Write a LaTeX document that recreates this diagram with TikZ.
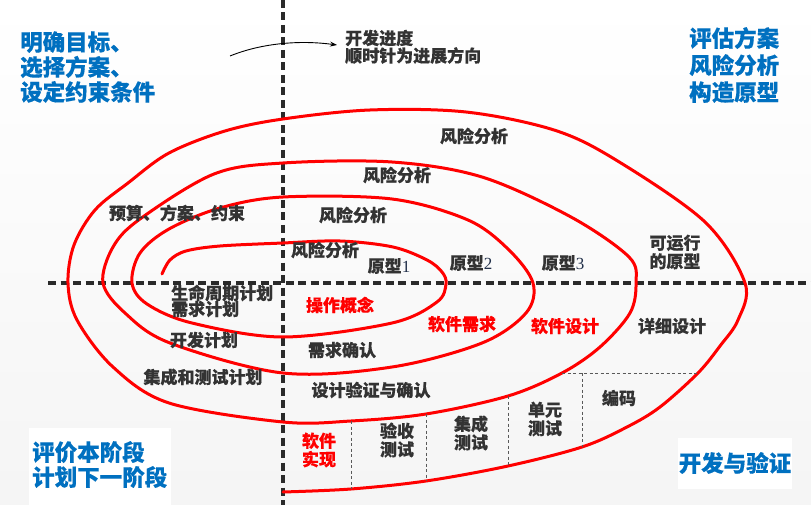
\documentclass[tikz,border=0pt]{standalone}
\usepackage{fontspec}
\setmainfont{Noto Sans CJK SC}[BoldFeatures={FakeBold=0.35}]
\newfontfamily\digitfont{Liberation Serif}
\usetikzlibrary{arrows.meta}
\definecolor{lbl}{HTML}{333333}
\definecolor{axc}{HTML}{2A2A2A}
\definecolor{blu}{HTML}{0070C0}
\definecolor{sred}{HTML}{FF0000}
\definecolor{dig}{HTML}{22304A}
\tikzset{
 lab/.style={font=\fontsize{17}{18.5}\selectfont\bfseries, text=lbl, inner sep=0pt, align=center},
 rlab/.style={lab, text=sred},
 corner/.style={font=\fontsize{22.5}{25}\selectfont\bfseries, text=blu, inner sep=0pt, align=left, anchor=west},
 axisline/.style={draw=axc, line width=3.4pt, dash pattern=on 8pt off 4.5pt},
 spiral/.style={line width=3pt, color=sred, line cap=round, line join=round},
 gridline/.style={line width=0.8pt, color=black!65, dash pattern=on 3pt off 2.5pt},
 whitebox/.style={fill=white, draw=none}
}
\newcommand{\dg}[1]{{\digitfont\mdseries\color{dig}#1}}
\begin{document}
\begin{tikzpicture}[x=1pt,y=-1pt]
\useasboundingbox (0,0) rectangle (811,505);
\shade[top color=white, bottom color=black!4] (0,0) rectangle (811,505);

% corner boxes
\fill[whitebox] (29,428) rectangle (171,505);
\fill[whitebox] (678,438) rectangle (792,489);

% axes
\coordinate (vt) at (283,0);
\coordinate (vb) at (283,505);
\coordinate (hl) at (48,283);
\coordinate (hr) at (811,283);
\draw[axisline] (vt) -- (vb);
\draw[axisline] (hl) -- (hr);

% spiral
\draw[spiral] plot[smooth, tension=0.55] coordinates {
(162,274) (170,260) (186,251) (220,246) (283,243) (340,241) (393,247) (427,260) (442,272) (446,284)
(437,302) (392,323) (283,337) (192,323) (147,304) (132,283)
(140,253) (169,229) (220,208) (283,197) (392,199) (468,220) (509,250) (533,283)
(526,313) (482,343) (392,367) (283,373) (170,343) (125,313) (103,283)
(113,247) (140,219) (214,174) (283,163) (392,162) (482,177) (571,217) (629,257) (636,283)
(630,313) (600,347) (562,373) (508,396) (426,414) (351,421) (283,422) (169,403) (113,367) (77,320) (68,283)
(74,245) (95,210) (128,183) (169,153) (225,131) (283,119) (370,110) (466,112) (554,130) (616,160) (705,222) (745,283)
(738,320) (720,346) (698,373) (660,407) (627,427) (582,447) (508,466) (426,481) (351,489) (283,492)
};

% thin dashed partitions
\coordinate (g1t) at (351,421); \coordinate (g1b) at (351,489);
\coordinate (g2t) at (426,414); \coordinate (g2b) at (426,481);
\coordinate (g3t) at (508,396); \coordinate (g3b) at (508,466);
\coordinate (g4t) at (582,373); \coordinate (g4b) at (582,447);
\coordinate (hl2) at (562,373); \coordinate (hr2) at (698,373);
\draw[gridline] (g1t) -- (g1b);
\draw[gridline] (g2t) -- (g2b);
\draw[gridline] (g3t) -- (g3b);
\draw[gridline] (g4t) -- (g4b);
\draw[gridline] (hl2) -- (hr2);

% progress arrow
\coordinate (a0) at (230,56);
\coordinate (a1) at (337,45);
\draw[line width=0.9pt, -{Stealth[length=7pt,width=5pt]}] (a0) .. controls (262,43) and (300,40) .. (a1);
\node[lab, anchor=west] (prog1) at (345,38) {开发进度};
\node[lab, anchor=west] (prog2) at (345,55.5) {顺时针为进展方向};

% corner labels
\node[corner] (c1) at (20,67) {明确目标、\\选择方案、\\设定约束条件};
\node[corner, font=\fontsize{22.5}{27}\selectfont\bfseries] (c2) at (689,65) {评估方案\\风险分析\\构造原型};
\node[corner] (c3) at (32,464.5) {评价本阶段\\计划下一阶段};
\node[corner, anchor=center] (c4) at (735,463) {开发与验证};

% spiral labels
\node[lab] (r4) at (474,136) {风险分析};
\node[lab] (r3) at (397,175) {风险分析};
\node[lab] (r2) at (353,215) {风险分析};
\node[lab] (r1) at (325,250) {风险分析};
\node[lab] (p1) at (389,266) {原型\dg{1}};
\node[lab] (p2) at (471,263) {原型\dg{2}};
\node[lab] (p3) at (563,263) {原型\dg{3}};
\node[lab] (p4) at (675,252) {可运行\\的原型};
\node[lab] (bud) at (177,213) {预算、方案、约束};
\node[lab, anchor=west] (lc) at (171,293) {生命周期计划};
\node[lab, anchor=west] (rp) at (171,309) {需求计划};
\node[rlab] (op) at (340,305) {操作概念};
\node[rlab] (sr) at (462,324) {软件需求};
\node[rlab] (sd) at (565,326) {软件设计};
\node[lab] (dd) at (672,326) {详细设计};
\node[lab] (dp) at (204,340) {开发计划};
\node[lab] (rc) at (342,350) {需求确认};
\node[lab] (it) at (203,377) {集成和测试计划};
\node[lab] (dv) at (371,390) {设计验证与确认};
\node[rlab] (si) at (319,450) {软件\\实现};
\node[lab] (at) at (397,440) {验收\\测试};
\node[lab] (ti) at (471,433) {集成\\测试};
\node[lab] (ut) at (545,419) {单元\\测试};
\node[lab] (cd) at (619,398) {编码};
\end{tikzpicture}
\end{document}
